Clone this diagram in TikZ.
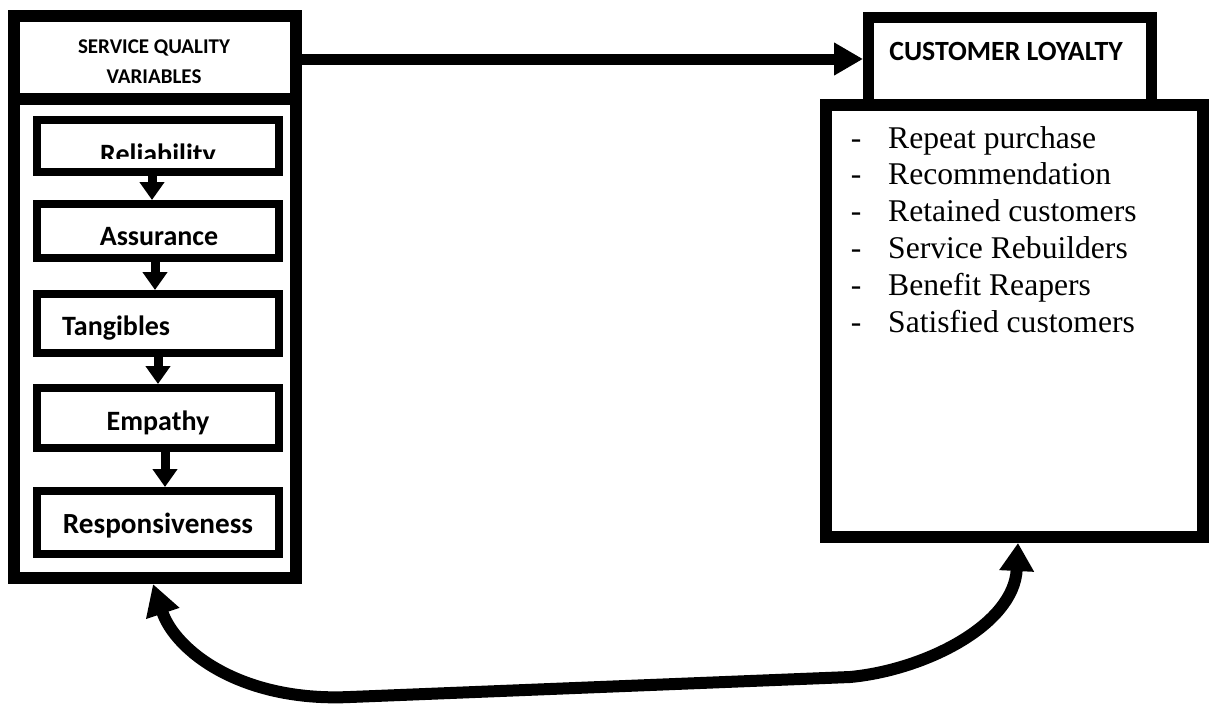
\documentclass[tikz,border=0pt]{standalone}
\usepackage{fontspec}
\setmainfont{Liberation Serif}
\newfontfamily\calibri{Carlito}
\usetikzlibrary{arrows.meta,calc}

\begin{document}
\begin{tikzpicture}[x=1pt,y=-1pt,
  bigbox/.style={draw,fill=white,line width=12pt,outer sep=6pt,inner sep=0pt},
  varbox/.style={draw,fill=white,line width=8pt,outer sep=4pt,inner sep=0pt,minimum width=242pt},
  headtext/.style={inner sep=0pt,anchor=base,font=\calibri\bfseries\fontsize{21}{25}\selectfont},
  vartext/.style={inner sep=0pt,anchor=base,font=\calibri\bfseries\fontsize{28}{34}\selectfont},
  itemtext/.style={inner sep=0pt,font=\fontsize{31.6}{37}\selectfont},
  steparrow/.style={line width=9pt,-{Triangle[width=24pt,length=18pt]}},
  linkarrow/.style={line width=11pt,-{Triangle[width=31pt,length=29pt]}},
  looparrow/.style={line width=12pt,{Triangle[width=33pt,length=28pt]}-{Triangle[width=33pt,length=31pt]}}]

\path[use as bounding box] (0,0) rectangle (1209,705);

% service quality column
\node[bigbox,minimum width=282pt,minimum height=83pt] (sqHead) at (155,57.5) {};
\node[bigbox,minimum width=282pt,minimum height=479pt] (sqBody) at (155,338.5) {};
\node[headtext] (sqT1) at (154,53) {SERVICE QUALITY};
\node[headtext] (sqT2) at (154,83) {VARIABLES};

\node[varbox,minimum height=52pt] (rel) at (158,146) {};
\node[varbox,minimum height=54pt] (ass) at (158,231) {};
\node[varbox,minimum height=59pt] (tan) at (158,323.5) {};
\node[varbox,minimum height=60pt] (emp) at (158,418) {};
\node[varbox,minimum height=63pt] (res) at (158,522.5) {};

\begin{scope}
  \clip (40,120) rectangle (276,158);
  \node[vartext] (relT) at (158,163) {Reliability};
\end{scope}
\node[vartext] (assT) at (159,245) {Assurance};
\node[vartext,anchor=base west] (tanT) at (62,335) {Tangibles};
\node[vartext] (empT) at (158,430) {Empathy};
\node[vartext,font=\calibri\bfseries\fontsize{29.2}{34}\selectfont] (resT) at (158,533) {Responsiveness};

\draw[steparrow] ([xshift=-6pt]rel.south) -- ([xshift=-6pt]ass.north);
\draw[steparrow] ([xshift=-3pt]ass.south) -- ([xshift=-3pt]tan.north);
\draw[steparrow] (tan.south) -- (emp.north);
\draw[steparrow] ([xshift=7pt]emp.south) -- ([xshift=7pt]res.north);

% customer loyalty column
\node[bigbox,line width=11pt,outer sep=5.5pt,minimum width=283pt,minimum height=87pt] (loyHead) at (1010,61) {};
\node[bigbox,minimum width=377pt,minimum height=432.5pt] (loyBody) at (1014.5,320.75) {};
\node[headtext,font=\calibri\bfseries\fontsize{27.8}{32}\selectfont] (loyT) at (1006,60) {CUSTOMER LOYALTY};

\foreach \t [count=\i from 0] in {Repeat purchase,Recommendation,Retained customers,Service Rebuilders,Benefit Reapers,Satisfied customers}{
  \node[itemtext,anchor=base] (dash\i) at (856,{148+36.8*\i}) {-};
  \node[itemtext,anchor=base west] (item\i) at (888,{148+36.8*\i}) {\t};
}

% connections
\draw[linkarrow] ([yshift=-1.5pt]sqHead.east) coordinate (linkStart) -- (linkStart -| loyHead.west);
\draw[looparrow] ([xshift=3.5pt]loyBody.south) .. controls (1014,625) and (925,670) .. (850,677)
  -- (350,697) .. controls (240,702) and (175,650) .. ([xshift=-2pt]sqBody.south);

\end{tikzpicture}
\end{document}
